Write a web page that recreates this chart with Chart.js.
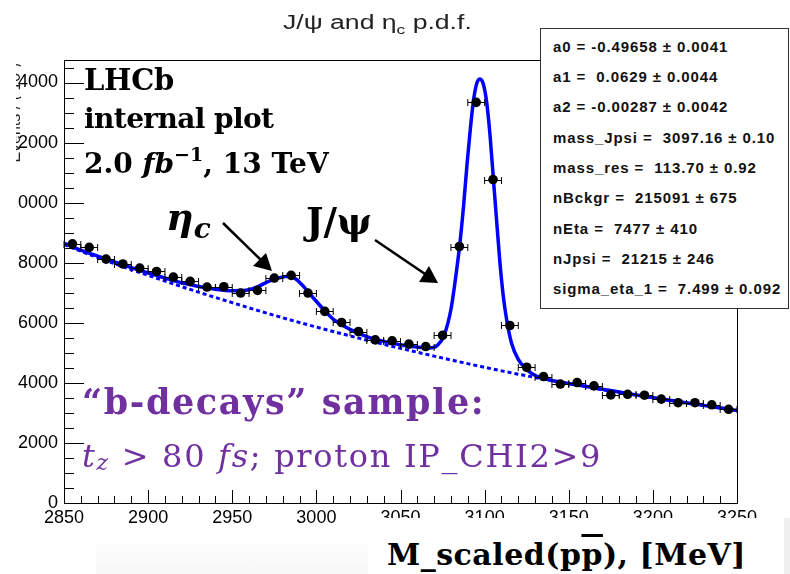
<!DOCTYPE html>
<html>
<head>
<meta charset="utf-8">
<script src="https://cdn.jsdelivr.net/npm/chart.js@4.4.0/dist/chart.umd.min.js"></script>
<style>
body { margin: 0; width: 790px; height: 574px; overflow: hidden; background: #fff; position: relative; }
#c { position: absolute; left: 0; top: 0; }
.ov { position: absolute; white-space: nowrap; line-height: 1; }
.serif { font-family: "DejaVu Serif", "Liberation Serif", serif; }
.purple { color: #7030a0; }
#title { left: 283px; top: 11px; font: 20px "Liberation Sans", Arial, sans-serif; color: #222;
  transform: scaleX(1.33); transform-origin: 0 0; }
#stats { position: absolute; left: 540px; top: 28px; width: 249px; height: 281px; border: 1px solid #333; background: #fff;
  display: flex; flex-direction: column; justify-content: space-around; box-sizing: border-box; padding: 2px 0 4px 12px;
  font: bold 15px "Liberation Sans", Arial, sans-serif; letter-spacing: 0.9px; color: #111; }
#xtitleBg { position: absolute; left: 368px; top: 518px; width: 416px; height: 56px; background: #fff; }
#grayBand { position: absolute; left: 96px; top: 536px; width: 272px; height: 38px; background: linear-gradient(#fff, #f7f7f7); }
#grayRight { position: absolute; left: 784px; top: 518px; width: 6px; height: 56px; background: #f0f0f0; }
#yStrip { position: absolute; left: 0; top: 62px; width: 17px; height: 152px; background: #fff; }
#yTitleClip { position: absolute; left: 16px; top: 62px; width: 5px; height: 120px; overflow: hidden; }
#yTitle { position: absolute; left: -61px; top: 52px; width: 120px; text-align: right; transform: rotate(-90deg);
  font: 16px "Liberation Sans", Arial, sans-serif; color: #222; }
</style>
</head>
<body>
<canvas id="c" width="790" height="574"></canvas>

<div id="yStrip"></div>
<div id="yTitleClip"><div id="yTitle">Events / ( 10 )</div></div>

<div class="ov" id="title">J/ψ and η<sub style="font-size:13px">c</sub> p.d.f.</div>

<div id="stats">
  <div>a0 = -0.49658 ± 0.0041</div>
  <div>a1 = &nbsp;0.0629 ± 0.0044</div>
  <div>a2 = -0.00287 ± 0.0042</div>
  <div>mass_Jpsi = &nbsp;3097.16 ± 0.10</div>
  <div>mass_res = &nbsp;113.70 ± 0.92</div>
  <div>nBckgr = &nbsp;215091 ± 675</div>
  <div>nEta = &nbsp;7477 ± 410</div>
  <div>nJpsi = &nbsp;21215 ± 246</div>
  <div>sigma_eta_1 = &nbsp;7.499 ± 0.092</div>
</div>

<div class="ov serif" style="left:84px; top:66px; font-size:29px; font-weight:bold; letter-spacing:-0.3px;">LHCb</div>
<div class="ov serif" style="left:84px; top:105px; font-size:28px; font-weight:bold; letter-spacing:-0.6px;">internal plot</div>
<div class="ov serif" style="left:84px; top:147px; font-size:28px; font-weight:bold; letter-spacing:0px;">2.0 <i>fb</i><sup style="font-size:19px; position:relative; top:-2px;">−1</sup>, 13 TeV</div>

<div class="ov serif" style="left:166px; top:198px; font-size:38px; font-weight:bold; font-style:italic;">η<span style="font-size:28px; position:relative; top:8px;">c</span></div>
<div class="ov serif" style="left:306px; top:203px; font-size:37px; font-weight:bold;">J/ψ</div>

<svg style="position:absolute; left:0; top:0;" width="790" height="574">
  <line x1="223" y1="223" x2="262" y2="261" stroke="#000" stroke-width="2.5"/>
  <polygon points="272,271 253,266 266,253" fill="#000"/>
  <line x1="375" y1="240" x2="428" y2="276" stroke="#000" stroke-width="2.5"/>
  <polygon points="438,283 419,282 429,266" fill="#000"/>
</svg>

<div class="ov serif purple" style="left:82px; top:384px; font-size:35px; font-weight:bold; letter-spacing:1.6px;">“b-decays” sample:</div>
<div class="ov serif purple" style="left:82px; top:440px; font-size:32px; letter-spacing:1.7px;"><i>t</i><sub style="font-size:22px; position:relative; top:-4px;"><i>z</i></sub> &gt; 80 <i>fs</i>; proton IP_CHI2&gt;9</div>

<div id="grayBand"></div>
<div id="xtitleBg"></div>
<div id="grayRight"></div>
<div class="ov serif" style="left:387px; top:540px; font-size:30px; font-weight:bold; letter-spacing:0.5px;">M_scaled(p<span style="text-decoration:overline;">p</span>), [MeV]</div>

<script>
// binned data, 10 MeV bins
var binCenters = [2855, 2865, 2875, 2885, 2895, 2905, 2915, 2925, 2935, 2945,
                  2955, 2965, 2975, 2985, 2995, 3005, 3015, 3025, 3035, 3045,
                  3055, 3065, 3075, 3085, 3095, 3105, 3115, 3125, 3135, 3145,
                  3155, 3165, 3175, 3185, 3195, 3205, 3215, 3225, 3235, 3245];
var counts = [8630, 8510, 8120, 7960, 7820, 7710, 7520, 7380, 7190, 7200,
              6990, 7080, 7490, 7580, 6990, 6380, 6010, 5710, 5430, 5400,
              5290, 5210, 5580, 8540, 13340, 10770, 5910, 4520, 4210, 3960,
              4010, 3900, 3600, 3620, 3590, 3460, 3340, 3340, 3270, 3120];
var binHalfWidth = 5;

// total fit curve
var fitMass = [2850, 2860, 2870, 2880, 2890, 2900, 2910, 2920, 2930, 2940, 2950, 2958,
               2965, 2972, 2978, 2984, 2988, 2993, 2998, 3005, 3010, 3020, 3030, 3040,
               3050, 3060, 3067, 3072, 3076, 3080, 3083, 3085.5, 3087.5, 3089.5, 3091.5,
               3093.5, 3095.5, 3097.3, 3099.2, 3101.2, 3103.2, 3105.2, 3107.2, 3109.1,
               3111.1, 3113.1, 3116, 3120, 3125, 3131, 3140, 3150, 3170, 3190, 3210, 3230, 3250];
var fitTotal = [8650, 8420, 8220, 8030, 7840, 7660, 7490, 7330, 7210, 7120, 7070, 7080,
                7200, 7390, 7500, 7550, 7450, 7170, 6840, 6400, 6120, 5780, 5540, 5380,
                5270, 5190, 5160, 5250, 5600, 6450, 7600, 8750, 9900, 11250, 12450,
                13450, 14000, 14120, 13950, 13350, 12250, 10800, 9350, 8000,
                6880, 6100, 5320, 4780, 4440, 4220, 4080, 3980, 3790, 3600, 3420, 3250, 3080];

// background component (dotted)
var bkgMass = [2850, 2870, 2890, 2910, 2930, 2950, 2970, 2990, 3010, 3030, 3050,
               3070, 3090, 3110, 3130, 3150, 3170, 3190, 3210, 3230, 3250];
var bkgValues = [8600, 8170, 7770, 7390, 7020, 6670, 6330, 6010, 5710, 5420, 5150,
                 4890, 4640, 4400, 4180, 3970, 3770, 3590, 3410, 3250, 3090];

var xTicks = [2850, 2900, 2950, 3000, 3050, 3100, 3150, 3200, 3250];
var yTicks = [0, 2000, 4000, 6000, 8000, 10000, 12000, 14000];

function toXY(xs, ys) {
    var out = [];
    for (var i = 0; i < xs.length; i++) out.push({x: xs[i], y: ys[i]});
    return out;
}

// ROOT style frame, inward ticks and horizontal error bars
var rootStyle = {
    id: 'rootStyle',
    afterDatasetsDraw: function(chart) {
        var ctx = chart.ctx, x = chart.scales.x, y = chart.scales.y;
        ctx.save();
        ctx.strokeStyle = '#000';
        ctx.lineWidth = 1;
        for (var i = 0; i < binCenters.length; i++) {
            var x0 = x.getPixelForValue(binCenters[i] - binHalfWidth);
            var x1 = x.getPixelForValue(binCenters[i] + binHalfWidth);
            var py = Math.round(y.getPixelForValue(counts[i])) + 0.5;
            ctx.beginPath();
            ctx.moveTo(x0, py); ctx.lineTo(x1, py);
            ctx.moveTo(x0, py - 3.5); ctx.lineTo(x0, py + 3.5);
            ctx.moveTo(x1, py - 3.5); ctx.lineTo(x1, py + 3.5);
            ctx.stroke();
        }
        ctx.restore();
    },
    afterDraw: function(chart) {
        var ctx = chart.ctx, a = chart.chartArea, x = chart.scales.x, y = chart.scales.y;
        ctx.save();
        ctx.strokeStyle = '#000';
        ctx.lineWidth = 1;
        ctx.strokeRect(Math.round(a.left) + 0.5, Math.round(a.top) + 0.5,
                       Math.round(a.right - a.left), Math.round(a.bottom - a.top));
        ctx.beginPath();
        for (var m = 2850; m <= 3250; m += 10) {
            var px = Math.round(x.getPixelForValue(m)) + 0.5;
            var len = (m % 50 === 0) ? 13 : 7;
            ctx.moveTo(px, a.bottom); ctx.lineTo(px, a.bottom - len);
        }
        for (var v = 0; v <= 14500; v += 500) {
            var py = Math.round(y.getPixelForValue(v)) + 0.5;
            var l2 = (v % 2000 === 0) ? 20 : 10;
            ctx.moveTo(a.left, py); ctx.lineTo(a.left + l2, py);
        }
        ctx.stroke();
        ctx.restore();
    }
};

function plainLabel(v) { return String(v); }

new Chart(document.getElementById('c'), {
    type: 'scatter',
    data: {
        datasets: [
            {
                label: 'data',
                data: toXY(binCenters, counts),
                pointRadius: 4.8,
                pointBackgroundColor: '#000',
                pointBorderWidth: 0,
                showLine: false
            },
            {
                label: 'total fit',
                data: toXY(fitMass, fitTotal),
                showLine: true,
                borderColor: '#0000ff',
                borderWidth: 3.5,
                pointRadius: 0,
                cubicInterpolationMode: 'monotone'
            },
            {
                label: 'background',
                data: toXY(bkgMass, bkgValues),
                showLine: true,
                borderColor: '#0000ff',
                borderWidth: 3,
                borderDash: [4, 3],
                pointRadius: 0,
                cubicInterpolationMode: 'monotone'
            }
        ]
    },
    options: {
        responsive: false,
        animation: false,
        devicePixelRatio: 1,
        layout: { padding: { top: 60, right: 53, left: 0, bottom: 0 } },
        plugins: { legend: { display: false }, tooltip: { enabled: false } },
        scales: {
            x: {
                type: 'linear', min: 2850, max: 3250,
                afterBuildTicks: function(s) { s.ticks = xTicks.map(function(v) { return {value: v}; }); },
                afterFit: function(s) { s.height = 71; },
                grid: { display: false, drawTicks: false },
                border: { display: false },
                ticks: { color: '#000', padding: 4, maxRotation: 0, autoSkip: false, callback: plainLabel,
                         font: { family: 'Liberation Sans', size: 18 } }
            },
            y: {
                type: 'linear', min: 0, max: 14750,
                afterBuildTicks: function(s) { s.ticks = yTicks.map(function(v) { return {value: v}; }); },
                afterFit: function(s) { s.width = 64; },
                grid: { display: false, drawTicks: false },
                border: { display: false },
                ticks: { color: '#000', padding: 6, autoSkip: false, callback: plainLabel,
                         font: { family: 'Liberation Sans', size: 18 } }
            }
        }
    },
    plugins: [rootStyle]
});
</script>
</body>
</html>
